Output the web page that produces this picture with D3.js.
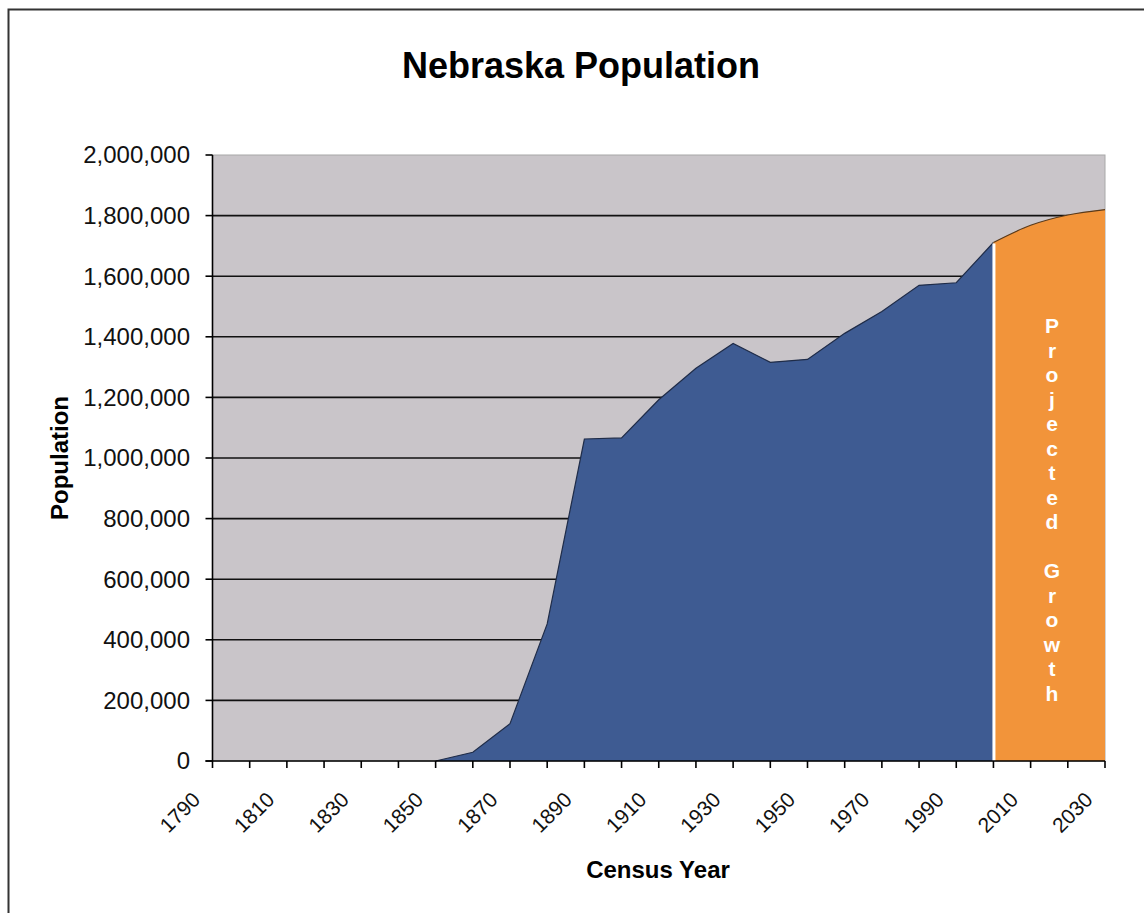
<!DOCTYPE html>
<html>
<head>
<meta charset="utf-8">
<script src="https://cdn.jsdelivr.net/npm/d3@7"></script>
<style>
  body { margin: 0; background: #fff; }
  text { font-family: Arial, "Liberation Sans", sans-serif; }
</style>
</head>
<body>
<div id="chart"></div>
<script>
// census counts (blue area)
var censusYears = [1850, 1860, 1870, 1880, 1890, 1900, 1910, 1920, 1930, 1940, 1950, 1960, 1970, 1980, 1990, 2000];
var censusPop = [0, 28841, 122993, 452402, 1062656, 1066300, 1192214, 1296372, 1377963, 1315834, 1325510, 1411330, 1483493, 1569825, 1578385, 1711263];

// projection (orange area)
var projYears = [2000, 2010, 2020, 2030];
var projPop = [1711263, 1768000, 1802000, 1820000];

var tickYears = d3.range(1790, 2031, 10);
var labelYears = d3.range(1790, 2031, 20);
var yTicks = [0, 200000, 400000, 600000, 800000, 1000000, 1200000, 1400000, 1600000, 1800000, 2000000];
var projLabel = "Projected Growth";

var width = 1144,
    height = 913;

var plot = {left: 212.5, right: 1105, top: 155, bottom: 761};

var svg = d3.select("#chart")
    .append("svg")
    .attr("width", width)
    .attr("height", height);

// outer frame
svg.append("rect")
    .attr("x", 8.5)
    .attr("y", 9.5)
    .attr("width", width + 10)
    .attr("height", height + 10)
    .style("fill", "#fff")
    .style("stroke", "#333")
    .style("stroke-width", 2);

var x = d3.scaleLinear()
    .domain([1790, 2030])
    .range([plot.left, plot.right]);

var y = d3.scaleLinear()
    .domain([0, 2000000])
    .range([plot.bottom, plot.top]);

var format = d3.format(",d");

// plot background
svg.append("rect")
    .attr("x", plot.left)
    .attr("y", plot.top)
    .attr("width", plot.right - plot.left)
    .attr("height", plot.bottom - plot.top)
    .style("fill", "#c9c5c9")
    .style("stroke", "#a8a8a8")
    .style("stroke-width", 1);

// gridlines
svg.selectAll(".grid")
    .data(yTicks.filter(function(d) { return d > 0 && d < 2000000; }))
    .enter().append("line")
    .attr("class", "grid")
    .attr("x1", plot.left)
    .attr("x2", plot.right)
    .attr("y1", function(d) { return y(d); })
    .attr("y2", function(d) { return y(d); })
    .style("stroke", "#111")
    .style("stroke-width", 1.6);

var area = d3.area()
    .x(function(d) { return x(d[0]); })
    .y0(y(0))
    .y1(function(d) { return y(d[1]); });

var line = d3.line()
    .x(function(d) { return x(d[0]); })
    .y(function(d) { return y(d[1]); });

var census = d3.zip(censusYears, censusPop);
var proj = d3.zip(projYears, projPop);

svg.append("path")
    .datum(census)
    .attr("d", area)
    .style("fill", "#3e5b92");

svg.append("path")
    .datum(census)
    .attr("d", line)
    .style("fill", "none")
    .style("stroke", "#1f2c48")
    .style("stroke-width", 1.2);

svg.append("path")
    .datum(proj)
    .attr("d", area.curve(d3.curveMonotoneX))
    .style("fill", "#f2943a");

svg.append("path")
    .datum(proj)
    .attr("d", line.curve(d3.curveMonotoneX))
    .style("fill", "none")
    .style("stroke", "#5a3a1a")
    .style("stroke-width", 1.2);

// white divider at 2000
svg.append("line")
    .attr("x1", x(2000) + 0.5)
    .attr("x2", x(2000) + 0.5)
    .attr("y1", y(projPop[0]) + 1)
    .attr("y2", y(0))
    .style("stroke", "#fff")
    .style("stroke-width", 3);

// vertical label in the projection area
var chars = projLabel.split("");
svg.append("text")
    .attr("x", 1052)
    .attr("y", 333)
    .style("fill", "#fff")
    .style("font-weight", "bold")
    .style("font-size", "21px")
    .style("text-anchor", "middle")
    .selectAll("tspan")
    .data(chars)
    .enter().append("tspan")
    .attr("x", 1052)
    .attr("dy", function(d, i) { return i === 0 ? 0 : 24.5; })
    .text(function(d) { return d === " " ? "\u00a0" : d; });

// axes
svg.append("line")
    .attr("x1", plot.left)
    .attr("x2", plot.left)
    .attr("y1", plot.top)
    .attr("y2", plot.bottom)
    .style("stroke", "#000")
    .style("stroke-width", 1.6);

svg.append("line")
    .attr("x1", plot.left - 7)
    .attr("x2", plot.right)
    .attr("y1", plot.bottom)
    .attr("y2", plot.bottom)
    .style("stroke", "#000")
    .style("stroke-width", 1.6);

svg.selectAll(".ytick")
    .data(yTicks)
    .enter().append("line")
    .attr("class", "ytick")
    .attr("x1", plot.left - 7)
    .attr("x2", plot.left)
    .attr("y1", function(d) { return y(d); })
    .attr("y2", function(d) { return y(d); })
    .style("stroke", "#000")
    .style("stroke-width", 1.6);

svg.selectAll(".ylabel")
    .data(yTicks)
    .enter().append("text")
    .attr("class", "ylabel")
    .attr("x", 190)
    .attr("y", function(d) { return y(d); })
    .attr("dy", "0.35em")
    .style("text-anchor", "end")
    .style("font-size", "24px")
    .style("fill", "#111")
    .text(function(d) { return format(d); });

svg.selectAll(".xtick")
    .data(tickYears)
    .enter().append("line")
    .attr("class", "xtick")
    .attr("x1", function(d) { return x(d); })
    .attr("x2", function(d) { return x(d); })
    .attr("y1", plot.bottom)
    .attr("y2", plot.bottom + 7)
    .style("stroke", "#000")
    .style("stroke-width", 1.6);

svg.selectAll(".xlabel")
    .data(labelYears)
    .enter().append("text")
    .attr("class", "xlabel")
    .attr("transform", function(d) { return "translate(" + (x(d) - 11) + ",801) rotate(-45)"; })
    .style("text-anchor", "end")
    .style("font-size", "21px")
    .style("fill", "#111")
    .text(function(d) { return d; });

// titles
svg.append("text")
    .attr("x", 581)
    .attr("y", 78)
    .style("text-anchor", "middle")
    .style("font-weight", "bold")
    .style("font-size", "36px")
    .text("Nebraska Population");

svg.append("text")
    .attr("transform", "translate(68,458) rotate(-90)")
    .style("text-anchor", "middle")
    .style("font-weight", "bold")
    .style("font-size", "24px")
    .text("Population");

svg.append("text")
    .attr("x", 658)
    .attr("y", 878)
    .style("text-anchor", "middle")
    .style("font-weight", "bold")
    .style("font-size", "24px")
    .text("Census Year");
</script>
</body>
</html>
